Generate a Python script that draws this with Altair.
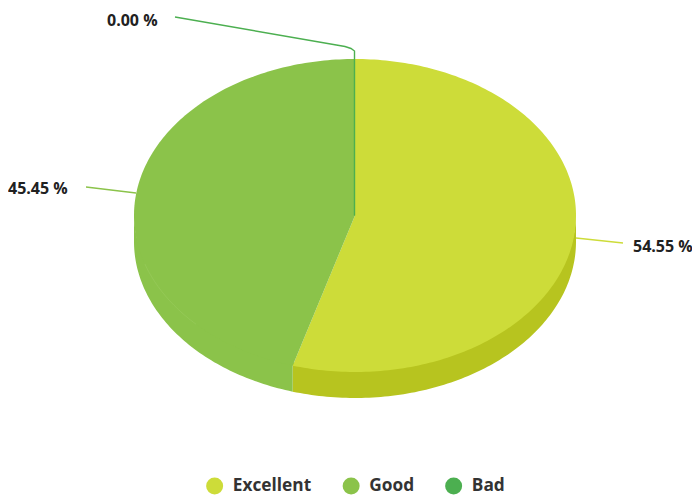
import math
import altair as alt
import pandas as pd

# --- chart values ---
categories = ["Excellent", "Good", "Bad"]
shares = [54.55, 45.45, 0.0]
colors = ["#CDDC39", "#8BC34A", "#4CAF50"]
side_colors = ["#B7C41F", "#8BC34A", "#4CAF50"]
text_color = "#212121"

# --- layout (pixels in page space) ---
CX, CY, RX, RY, DEPTH = 355, 215.5, 221, 156.5, 26
FONT = "Open Sans"


def rim(a_deg, dy=0):
    a = math.radians(a_deg)
    return CX + RX * math.sin(a), CY - RY * math.cos(a) + dy


def span(a0, a1):
    n = max(2, int(abs(a1 - a0)) + 1)
    return [a0 + (a1 - a0) * i / (n - 1) for i in range(n)]


top_rows, side_rows = [], []
start = 0.0
for cat, share, side in zip(categories, shares, side_colors):
    end = start + share * 3.6
    pts = [(CX, CY)] + [rim(a) for a in span(start, end)] + [(CX, CY)]
    for i, (x, y) in enumerate(pts):
        top_rows.append(dict(cat=cat, x=x, y=y, i=i))
    lo, hi = max(start, 90), min(end, 270)
    if hi > lo:
        arc = span(lo, hi)
        # the upper edge of the wall tucks under the top face so that no seam shows
        wall = [rim(a, -3) for a in arc] + [rim(a, DEPTH) for a in reversed(arc)]
        wall.append(wall[0])
        for i, (x, y) in enumerate(wall):
            side_rows.append(dict(cat=cat, x=x, y=y, i=i))
    start = end

x_scale = alt.Scale(domain=[8, 692], range=[0, 684], nice=False, zero=False)
y_scale = alt.Scale(domain=[8, 495], range=[0, 487], nice=False, zero=False)
X = alt.X("x:Q", scale=x_scale, axis=None)
Y = alt.Y("y:Q", scale=y_scale, axis=None)

side_layer = alt.Chart(pd.DataFrame(side_rows)).mark_line(filled=True).encode(
    x=X, y=Y, order="i:Q",
    color=alt.Color("cat:N", scale=alt.Scale(domain=categories, range=side_colors), legend=None),
)

top_layer = alt.Chart(pd.DataFrame(top_rows)).mark_line(filled=True).encode(
    x=X, y=Y, order="i:Q",
    color=alt.Color(
        "cat:N",
        sort=categories,
        scale=alt.Scale(domain=categories, range=colors),
        legend=alt.Legend(
            title=None, orient="none", direction="horizontal", columns=3,
            legendX=198, legendY=469, symbolType="circle", symbolSize=289,
            symbolStrokeWidth=0, labelFont=FONT, labelFontSize=17.3, labelFontWeight=700,
            labelColor="#333333", labelOffset=9.5, columnPadding=30.5, symbolOpacity=1,
        ),
    ),
)

seam = pd.DataFrame([dict(x=x, y=y, i=i) for i, (x, y) in enumerate(rim(a) for a in span(226, 252))])
seam_layer = alt.Chart(seam).mark_line(strokeWidth=0.8, color="#A4D26C", opacity=0.45).encode(
    x=X, y=Y, order="i:Q"
)

leaders = pd.DataFrame(
    [dict(cat="Excellent", x=x, y=y, i=i) for i, (x, y) in enumerate([(576, 238), (623, 243)])]
    + [dict(cat="Good", x=x, y=y, i=i) for i, (x, y) in enumerate([(136, 193), (86, 187)])]
    + [dict(cat="Bad", x=x, y=y, i=i) for i, (x, y) in enumerate(
        [(CX - 0.5, CY), (CX - 0.5, 51), (351, 48.5), (345, 46.5), (175, 17)])]
)
leader_layer = alt.Chart(leaders).mark_line(strokeWidth=1.4).encode(
    x=X, y=Y, order="i:Q",
    color=alt.Color("cat:N", scale=alt.Scale(domain=categories, range=colors), legend=None),
)

labels = pd.DataFrame({
    "x": [633, 8, 107],
    "y": [247, 189, 21],
    "t": [f"{s:.2f} %" for s in shares],
})
label_layer = alt.Chart(labels).mark_text(
    align="left", baseline="middle", font=FONT, fontSize=16, fontWeight=700, color=text_color
).encode(x=X, y=Y, text="t:N")

chart = alt.layer(side_layer, top_layer, seam_layer, leader_layer, label_layer).resolve_scale(
    color="independent"
).properties(
    width=684, height=487, padding=0, autosize=alt.AutoSizeParams(type="none")
).configure_view(stroke=None)

chart.save("out.html", embed_options={"renderer": "svg", "actions": False})
